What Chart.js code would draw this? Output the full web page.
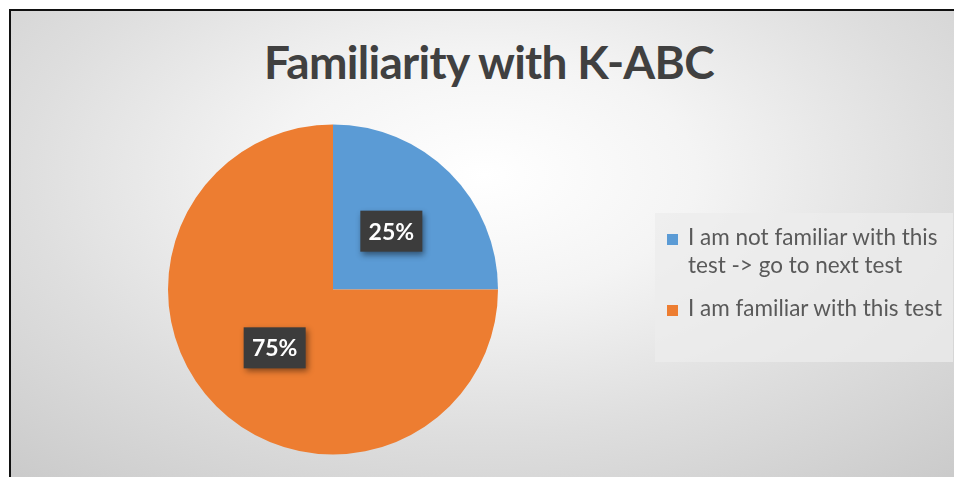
<!DOCTYPE html>
<html>
<head>
<meta charset="utf-8">
<script src="https://cdn.jsdelivr.net/npm/chart.js@4/dist/chart.umd.min.js"></script>
<style>
  html, body { margin: 0; padding: 0; background: #fff; }
  #frame {
    position: absolute; left: 9px; top: 9px; width: 945px; height: 468px;
    border-left: 2px solid #111; border-top: 2px solid #111;
    background: radial-gradient(ellipse 75% 85% at 50% 35%, #ffffff 0%, #f4f4f4 30%, #dedede 65%, #cbcbcb 100%);
    overflow: hidden;
  }
  #title {
    position: absolute; left: 0; width: 978px; top: 34px; text-align: center;
    font-family: Lato, sans-serif; font-weight: bold; font-size: 46px; color: #404040;
    letter-spacing: -0.7px;
  }
  #legend {
    position: absolute; left: 655px; top: 213px; width: 298px; height: 149px;
    background: rgba(236, 236, 236, 0.75); box-sizing: border-box; padding: 10px 0 0 12px;
    font-family: Lato, sans-serif; font-size: 22.5px; color: #595959; line-height: 28px;
  }
  .item { position: relative; padding-left: 21px; margin-bottom: 15px; }
  .sw { position: absolute; left: 0; top: 11px; width: 11px; height: 11px; }
  canvas { position: absolute; left: 0; top: 0; }
</style>
</head>
<body>
<div id="frame"></div>
<div id="title"></div>
<canvas id="pie" width="954" height="477"></canvas>
<div id="legend"></div>
<script>
const titleText = 'Familiarity with K-ABC';
const categories = ['I am not familiar with this test -> go to next test', 'I am familiar with this test'];
const shares = [25, 75];
const colors = ['#5b9bd5', '#ed7d31'];

document.getElementById('title').textContent = titleText;

// legend built as html so the long label wraps like the original
const legend = document.getElementById('legend');
categories.forEach((cat, i) => {
  const item = document.createElement('div');
  item.className = 'item';
  const sw = document.createElement('span');
  sw.className = 'sw';
  sw.style.background = colors[i];
  item.appendChild(sw);
  item.appendChild(document.createTextNode(cat));
  legend.appendChild(item);
});

const labelBoxes = {
  id: 'labelBoxes',
  afterDatasetsDraw(chart) {
    const ctx = chart.ctx;
    const meta = chart.getDatasetMeta(0);
    ctx.save();
    ctx.font = 'bold 23px Lato, sans-serif';
    ctx.textAlign = 'center';
    ctx.textBaseline = 'middle';
    meta.data.forEach((arc, i) => {
      const p = arc.tooltipPosition();
      const w = 62, h = 41;
      ctx.shadowColor = 'rgba(0,0,0,0.45)';
      ctx.shadowBlur = 6;
      ctx.shadowOffsetX = 2;
      ctx.shadowOffsetY = 3;
      ctx.fillStyle = '#3c3c3c';
      ctx.fillRect(p.x - w / 2, p.y - h / 2, w, h);
      ctx.shadowColor = 'transparent';
      ctx.fillStyle = '#ffffff';
      ctx.fillText(shares[i] + '%', p.x, p.y + 1);
    });
    ctx.restore();
  },
};

new Chart(document.getElementById('pie'), {
  type: 'pie',
  data: {
    labels: categories,
    datasets: [{
      data: shares,
      backgroundColor: colors,
      borderWidth: 0,
    }],
  },
  options: {
    responsive: false,
    animation: false,
    layout: { padding: { top: 124, right: 456, bottom: 22, left: 168 } },
    plugins: {
      legend: { display: false },
      title: { display: false },
      tooltip: { enabled: false },
    },
  },
  plugins: [labelBoxes],
});
</script>
</body>
</html>
